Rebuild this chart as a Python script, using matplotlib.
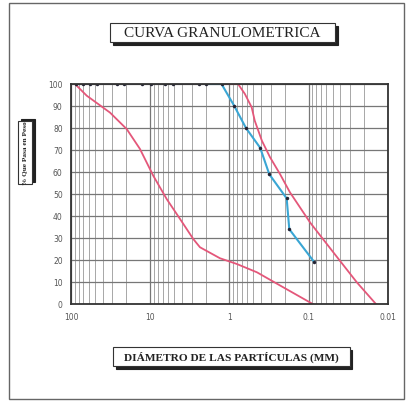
import matplotlib
matplotlib.use("Agg")
import matplotlib.pyplot as plt
from matplotlib.patches import Rectangle
from matplotlib.ticker import FixedLocator, LogLocator, NullFormatter

# sample curve (diameter mm, % passing)
muestra_d = [86.5, 70.6, 57.5, 47.0, 26.3, 21.4, 12.7, 9.8, 6.5, 5.2, 2.4, 2.0,
             1.26, 0.87, 0.62, 0.41, 0.315, 0.19, 0.176, 0.085]
muestra_p = [100, 100, 100, 100, 100, 100, 100, 100, 100, 100, 100, 100,
             100, 90, 80, 71, 59, 48, 34, 19]

# upper limit (fine side)
sup_d = [4.0, 0.78, 0.64, 0.525, 0.48, 0.39, 0.308, 0.23, 0.173, 0.096, 0.049, 0.0248, 0.0142]
sup_p = [100, 100, 95.5, 89.4, 83.3, 74.2, 66.7, 59, 50.8, 37, 23.5, 9.9, 0]

# lower limit (coarse side)
inf_d = [89, 63.4, 32.2, 19.8, 13.5, 9.16, 6.2, 4.2, 2.86, 2.36, 1.32, 0.81, 0.45, 0.21, 0.089]
inf_p = [100, 94.7, 87, 79.5, 70.5, 58.3, 47.7, 38.6, 29.5, 25.8, 20.8, 18.2, 14.4, 7.6, 0]

xticks = [100, 10, 1, 0.1, 0.01]
xlabels = ["100", "10", "1", "0.1", "0.01"]
yticks = list(range(0, 101, 10))

W, H = 409, 406
fig = plt.figure(figsize=(W / 100, H / 100), dpi=100)


def fx(px):
    return px / W


def fy(py):
    return 1 - py / H


# outer page frame
fig.patches.append(Rectangle((fx(9), fy(400)), fx(395), fy(4) - fy(400),
                             transform=fig.transFigure, fill=False,
                             edgecolor="#666666", lw=1.0))


def boxed_text(x0, y0, x1, y1, text, size, weight="normal", rotation=0, shadow="rb"):
    # shadow first, then white box on top
    if shadow == "rb":
        sx, sy = 2.5, 2.5
    else:
        sx, sy = 2.5, -2.5
    fig.patches.append(Rectangle((fx(x0 + sx), fy(y1 + sy)), fx(x1 - x0), fy(y0) - fy(y1),
                                 transform=fig.transFigure, facecolor="#222222",
                                 edgecolor="#222222", lw=0.8))
    fig.patches.append(Rectangle((fx(x0), fy(y1)), fx(x1 - x0), fy(y0) - fy(y1),
                                 transform=fig.transFigure, facecolor="white",
                                 edgecolor="#333333", lw=0.8))
    fig.text(fx((x0 + x1) / 2), fy((y0 + y1) / 2), text, ha="center", va="center",
             fontsize=size, family="Liberation Serif", weight=weight,
             rotation=rotation, color="#222222")


boxed_text(110, 24, 335, 43, "CURVA GRANULOMETRICA", 11)
boxed_text(113, 348, 350, 367, "DIÁMETRO DE LAS PARTÍCULAS (MM)", 8.2, weight="bold")
boxed_text(18, 122, 32, 185, "% Que Pasa en Peso", 5.2, weight="bold", rotation=90, shadow="rt")

ax = fig.add_axes([fx(71), fy(305), fx(388 - 71), fy(85) - fy(305)])
ax.set_xscale("log")
ax.set_xlim(100, 0.01)
ax.set_ylim(0, 100)

ax.xaxis.set_major_locator(FixedLocator(xticks))
ax.set_xticklabels(xlabels)
ax.xaxis.set_minor_locator(LogLocator(base=10, subs=range(2, 10)))
ax.xaxis.set_minor_formatter(NullFormatter())
ax.set_yticks(yticks)

ax.grid(True, which="major", color="#777777", lw=0.9)
ax.grid(True, which="minor", axis="x", color="#999999", lw=0.6)
ax.tick_params(which="both", length=0, labelsize=5.5, labelcolor="#555555", pad=6)
for s in ax.spines.values():
    s.set_color("#333333")
    s.set_linewidth(1.3)

ax.plot(sup_d, sup_p, color="#e4577a", lw=1.3)
ax.plot(inf_d, inf_p, color="#e4577a", lw=1.3)
ax.plot(muestra_d[11:], muestra_p[11:], color="#3aa6d4", lw=1.5)
ax.plot(muestra_d[:12], muestra_p[:12], color="#555566", lw=1.3)
ax.plot(muestra_d, muestra_p, "o", color="#222233", ms=2.5, mew=0)

fig.savefig("out.png", dpi=100)
